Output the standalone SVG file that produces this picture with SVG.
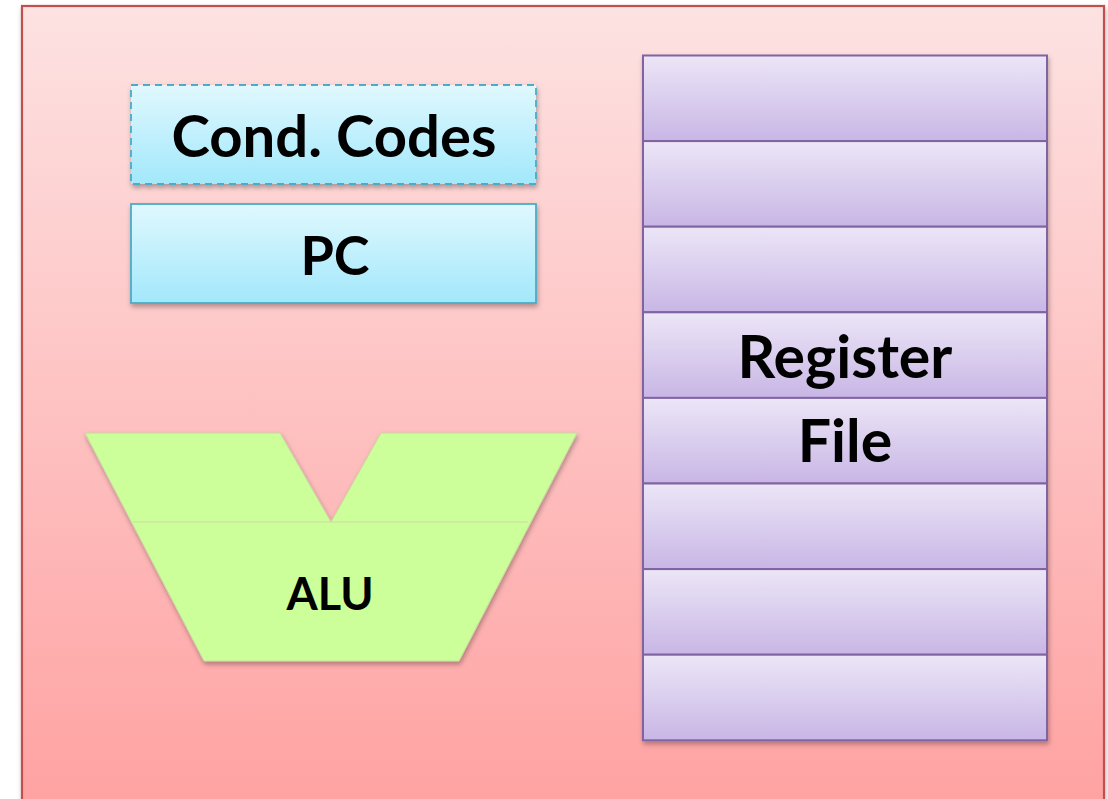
<svg xmlns="http://www.w3.org/2000/svg" width="1108" height="799" viewBox="0 0 1108 799">
<defs>
<linearGradient id="bg" x1="0" y1="0" x2="0" y2="1"><stop offset="0" stop-color="#fde2e2"/><stop offset="1" stop-color="#ffa1a1"/></linearGradient>
<linearGradient id="cy" x1="0" y1="0" x2="0" y2="1"><stop offset="0" stop-color="#e0f8fe"/><stop offset="1" stop-color="#a2e8fb"/></linearGradient>
<linearGradient id="pu" x1="0" y1="0" x2="0" y2="1"><stop offset="0" stop-color="#ece6f7"/><stop offset="1" stop-color="#c8b6e5"/></linearGradient>
<filter id="sh" x="-10%" y="-10%" width="120%" height="130%"><feDropShadow dx="1" dy="3" stdDeviation="2.5" flood-color="#000" flood-opacity="0.3"/></filter>
</defs>
<style>
.lbl{font-family:Lato,"Open Sans","Liberation Sans",sans-serif;font-weight:bold;fill:#000;text-anchor:middle}
.reg{fill:url(#pu);stroke:#8064a2;stroke-width:2}
.cy{fill:url(#cy);stroke:#4bacc6;stroke-width:1.8}
</style>
<g id="cpu">
<rect x="22" y="6" width="1082" height="810" fill="url(#bg)" stroke="#c0504d" stroke-width="2.2" filter="url(#sh)"/>
</g>
<g id="cond-codes">
<rect class="cy" x="131" y="85" width="405" height="99" stroke-dasharray="7,5" filter="url(#sh)"/>
<text class="lbl" x="334" y="157" font-size="58">Cond. Codes</text>
</g>
<g id="pc">
<rect class="cy" x="131" y="204" width="405" height="99" filter="url(#sh)"/>
<text class="lbl" x="335" y="275" font-size="54">PC</text>
</g>
<g id="alu">
<path d="M85,433 L280,433 L331,522 L381,433 L577,433 L459,661 L204,661 Z" fill="#ccff99" stroke="#c8d8a0" stroke-width="1" filter="url(#sh)"/>
<line x1="133" y1="522" x2="528" y2="522" stroke="#cbd9a8" stroke-width="1"/>
<text class="lbl" x="330" y="610" font-size="45">ALU</text>
</g>
<g id="register-file" filter="url(#sh)">
<rect class="reg" x="643" y="55.5" width="404" height="85.6"/>
<rect class="reg" x="643" y="141.1" width="404" height="85.6"/>
<rect class="reg" x="643" y="226.7" width="404" height="85.6"/>
<rect class="reg" x="643" y="312.3" width="404" height="85.6"/>
<rect class="reg" x="643" y="397.9" width="404" height="85.6"/>
<rect class="reg" x="643" y="483.5" width="404" height="85.6"/>
<rect class="reg" x="643" y="569.1" width="404" height="85.6"/>
<rect class="reg" x="643" y="654.7" width="404" height="85.6"/>
</g>
<g id="register-file-label">
<text class="lbl" x="845" y="378" font-size="59">Register</text>
<text class="lbl" x="845" y="462" font-size="59">File</text>
</g>
<g id="connectors"/>
</svg>
